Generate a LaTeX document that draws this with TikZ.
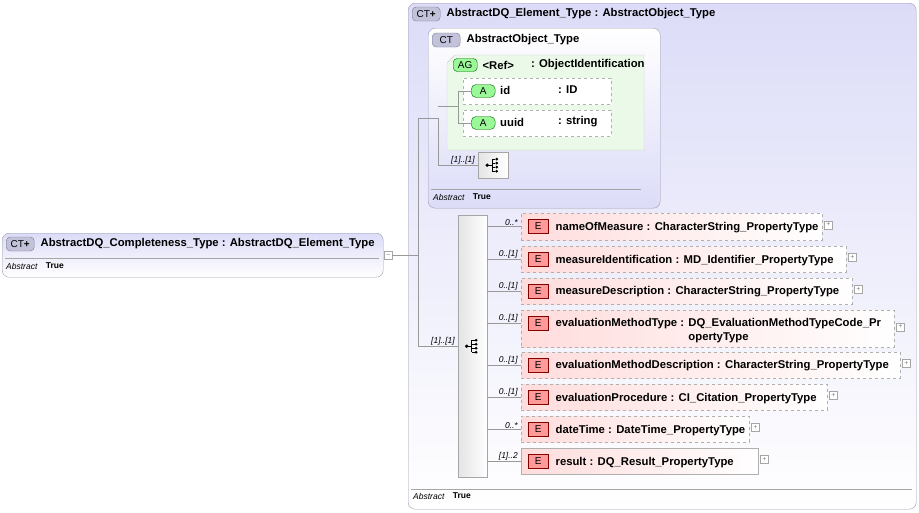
\documentclass[tikz,border=0pt]{standalone}
\usepackage{fontspec}
\setmainfont{Liberation Sans}
\usetikzlibrary{positioning,shapes.misc}

\definecolor{ctfill}{HTML}{DCDCF8}
\definecolor{ctline}{HTML}{9A9AB0}
\definecolor{agfill}{HTML}{DDF5DA}
\definecolor{elfill}{HTML}{FFDCDC}
\definecolor{elline}{HTML}{B0B0B0}
\definecolor{seqfill}{HTML}{E4E4E4}

\tikzset{
	every node/.append style = {font=\fontsize{10}{12}\selectfont, inner sep=0pt},
	ctbox/.style = {draw=ctline, rounded corners=7pt, top color=ctfill, bottom color=white, anchor=north west},
	ctbadge/.style = {draw=ctline!80!black, fill=ctfill!60!ctline, rounded corners=4pt, minimum width=28pt, minimum height=14pt, font=\fontsize{10}{10}\selectfont},
	title/.style = {font=\fontsize{11.3}{13}\selectfont\bfseries, anchor=west},
	abstr/.style = {font=\fontsize{8.5}{10}\selectfont\itshape, anchor=west},
	truev/.style = {font=\fontsize{8.5}{10}\selectfont\bfseries, anchor=west},
	sepline/.style = {draw=gray!70},
	elbox/.style = {draw=elline, dashed, left color=elfill, right color=white, anchor=north west},
	ebadge/.style = {draw=red!50!black, fill=elfill!70!red, minimum width=20pt, minimum height=14pt, anchor=west, font=\fontsize{10}{10}\selectfont},
	abadge/.style = {draw=green!40!black, fill=agfill!70!green, rounded corners=5pt, minimum width=24pt, minimum height=13pt, anchor=west, font=\fontsize{10}{10}\selectfont},
	card/.style = {font=\fontsize{8.5}{10}\selectfont\itshape, anchor=south east},
	plusbox/.style = {draw=gray!70, fill=white, minimum size=8pt, font=\fontsize{7}{7}\selectfont, text=gray},
	conn/.style = {draw=gray!80, line width=0.6pt},
	seqbox/.style = {draw=gray!70, left color=seqfill, right color=white, anchor=north west}
}

\newcommand{\seqicon}[1]{%
	\fill[black] (#1) ++(-6,0) circle (1.8);
	\draw[black, line width=0.7pt] (#1) ++(-6,0) -- ++(5,0);
	\draw[black, line width=0.7pt] (#1) ++(-1,-6) -- ++(0,12);
	\foreach \dy in {-6,-2,2,6} {
		\draw[black, line width=0.7pt] (#1) ++(-1,\dy) -- ++(3,0);
		\fill[black] (#1) ++(3.5,\dy) circle (1.5);
	}
}

\begin{document}
\begin{tikzpicture}[x=1pt, y=-1pt]
\useasboundingbox (0,0) rectangle (919,512);

% outer complex type
\node[ctbox, minimum width=508pt, minimum height=506pt] (elem) at (408,3) {};
\node[ctbadge, anchor=west] (elembadge) at (412,14) {CT\textbf{+}};
\node[title, right=6pt of elembadge.east] (elemtitle) {AbstractDQ\_Element\_Type : AbstractObject\_Type};
\draw[sepline] (411,489) -- (912,489);
\node[abstr] (elemabs) at (413,496) {Abstract};
\node[truev, right=8pt of elemabs.east] {True};

% base type
\node[ctbox, minimum width=232pt, minimum height=180pt, top color=white, bottom color=ctfill] (obj) at (428,28) {};
\node[ctbadge, anchor=west] (objbadge) at (432,40) {CT};
\node[title, right=6pt of objbadge.east] {AbstractObject\_Type};
\draw[sepline] (431,189) -- (641,189);
\node[abstr] (objabs) at (433,197) {Abstract};
\node[truev, right=8pt of objabs.east] {True};

% attribute group
\fill[agfill!60!white, draw=gray!40] (455,55) -- (644,55) -- (644,150) -- (447,150) -- (447,63) -- cycle;
\node[abadge, rounded corners=4pt] (agbadge) at (453,65) {AG};
\node[title, right=5pt of agbadge.east] (agref) {<Ref>};
\node[title, anchor=west] at (531,65) {: ObjectIdentification};

\node[elbox, draw=gray!60, left color=white, right color=white, minimum width=148pt, minimum height=26pt] (aid) at (463,78) {};
\node[abadge] (aidbadge) at (471,91) {A};
\node[title] at (500,90) {id};
\node[title] at (558,90) {: ID};
\node[elbox, draw=gray!60, left color=white, right color=white, minimum width=148pt, minimum height=26pt] (auuid) at (463,110) {};
\node[abadge] (auuidbadge) at (471,123) {A};
\node[title] at (500,122) {uuid};
\node[title] at (558,122) {: string};

\coordinate (agj) at (458,106);
\draw[conn] (agj |- aidbadge.west) -- (aidbadge.west);
\draw[conn] (agj |- auuidbadge.west) -- (auuidbadge.west);
\draw[conn] (agj |- aidbadge.west) -- (agj |- auuidbadge.west);

% base sequence
\node[seqbox, minimum width=30pt, minimum height=26pt] (objseq) at (478,152) {};
\seqicon{objseq.center}
\coordinate (objj) at (438,118);
\draw[conn] (objj) -- (objj |- objseq.west) -- (objseq.west);
\draw[conn] (objj |- agj) -- (agj);
\node[card] at ([xshift=-3pt, yshift=1pt]objseq.west) {[1]..[1]};

% derived type
\node[ctbox, minimum width=381pt, minimum height=44pt] (compl) at (2,233) {};
\node[ctbadge, anchor=west] (complbadge) at (6,244) {CT\textbf{+}};
\node[title, right=6pt of complbadge.east] {AbstractDQ\_Completeness\_Type : AbstractDQ\_Element\_Type};
\draw[sepline] (5,258) -- (379,258);
\node[abstr] (complabs) at (6,266) {Abstract};
\node[truev, right=8pt of complabs.east] {True};
\node[plusbox, anchor=west] (complminus) at (384,255) {--};

% sequence of elements
\node[seqbox, minimum width=29pt, minimum height=262pt] (seq) at (458,215) {};
\seqicon{seq.center}
\coordinate (mainj) at (418,255);
\draw[conn] (complminus.east) -- (mainj);
\draw[conn] (mainj |- objj) -- (mainj |- seq.west) -- (seq.west);
\draw[conn] (mainj |- objj) -- (objj);
\node[card] at ([xshift=-3pt, yshift=1pt]seq.west) {[1]..[1]};

\foreach \i/\y/\w/\h/\crd/\nm/\ty in {
	1/213/301/27/0..*/nameOfMeasure/CharacterString\_PropertyType,
	2/246/325/26/0..[1]/measureIdentification/MD\_Identifier\_PropertyType,
	3/278/331/26/0..[1]/measureDescription/CharacterString\_PropertyType,
	4/310/373/37/0..[1]/evaluationMethodType/{DQ\_EvaluationMethodTypeCode\_Pr\\opertyType},
	5/352/379/26/0..[1]/evaluationMethodDescription/CharacterString\_PropertyType,
	6/384/306/26/0..[1]/evaluationProcedure/CI\_Citation\_PropertyType,
	7/416/228/26/0..*/dateTime/DateTime\_PropertyType,
	8/448/237/26/[1]..2/result/DQ\_Result\_PropertyType} {
	\node[elbox, minimum width=\w pt, minimum height=\h pt] (e\i) at (521,\y) {};
	\node[ebadge] (eb\i) at (528,\y+13.5) {E};
	\node[title, right=7pt of eb\i.east] (en\i) {\nm\ :};
	\node[font=\fontsize{11.3}{14}\selectfont\bfseries, anchor=north west, align=left] (et\i) at ([xshift=4pt]en\i.north east) {\ty};
	\node[plusbox] (ep\i) at ([xshift=6pt, yshift=2pt]e\i.east) {+};
	\draw[conn] (seq.east |- eb\i.west) -- (e\i.west |- eb\i.west);
	\node[card] at ([xshift=-3pt, yshift=1pt]e\i.west |- eb\i.west) {\crd};
}
\draw[elline, solid] (e8.north west) rectangle (e8.south east);
\end{tikzpicture}
\end{document}
